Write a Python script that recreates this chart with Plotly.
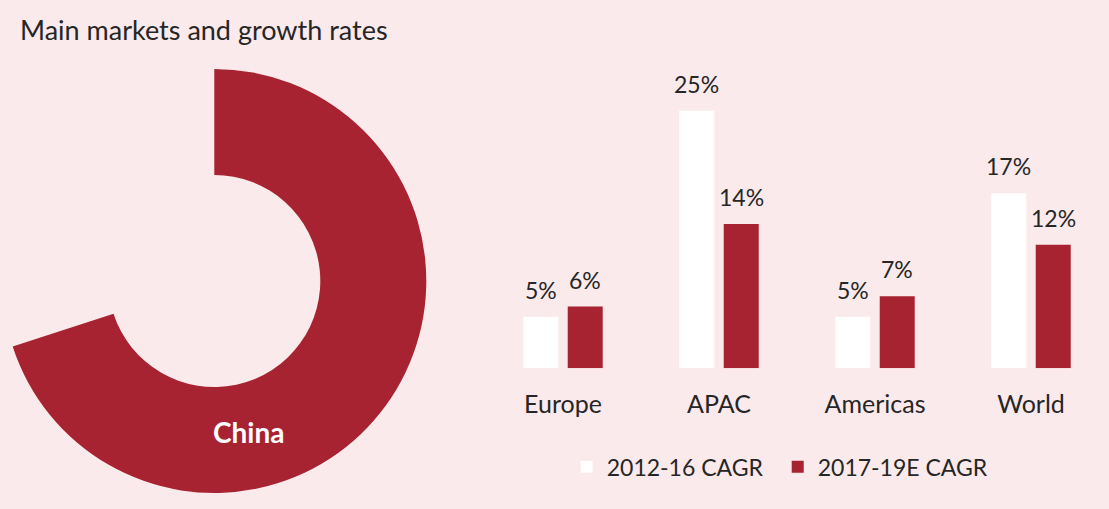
import plotly.graph_objects as go

# Data
regions = ["Europe", "APAC", "Americas", "World"]
cagr_2012_16 = [5, 25, 5, 17]
cagr_2017_19e = [6, 14, 7, 12]
series_names = ["2012-16 CAGR", "2017-19E CAGR"]

donut_labels = ["China", "Other"]
donut_share = [70, 30]

title_text = "Main markets and growth rates"

# Styling
BG = "#FBEAEB"
RED = "#A82332"
WHITE = "#FFFFFF"
TEXT = "#262626"
FONT = "Lato"

W, H = 1109, 509

fig = go.Figure()

# Donut: only the China slice is drawn, the remainder is left transparent
fig.add_trace(go.Pie(
    labels=donut_labels,
    values=donut_share,
    hole=0.5,
    sort=False,
    direction="clockwise",
    rotation=0,
    marker=dict(colors=[RED, "rgba(0,0,0,0)"], line=dict(width=0)),
    textinfo="none",
    hoverinfo="skip",
    showlegend=False,
    domain=dict(x=[2.3 / W, 426.3 / W], y=[16 / H, 440 / H]),
))

# Grouped bars
for name, vals, color in [(series_names[0], cagr_2012_16, WHITE),
                          (series_names[1], cagr_2017_19e, RED)]:
    fig.add_trace(go.Bar(
        name=name,
        x=regions,
        y=vals,
        marker=dict(color=color, line=dict(width=0)),
        hoverinfo="skip",
    ))

# Value labels above each bar
annotations = []
bar_offset = 22.2  # px from category centre to each bar centre
for vals, off in [(cagr_2012_16, -bar_offset), (cagr_2017_19e, bar_offset)]:
    for r, v in zip(regions, vals):
        annotations.append(dict(
            x=r, y=v, xref="x", yref="y",
            xshift=off, yshift=27,
            text=f"{v}%", showarrow=False,
            xanchor="center", yanchor="middle",
            font=dict(family=FONT, size=23, color=TEXT),
        ))

annotations.append(dict(
    x=18 / W, y=1 - 30 / H, xref="paper", yref="paper",
    text=title_text, showarrow=False, xanchor="left", yanchor="middle",
    font=dict(family=FONT, size=27, color=TEXT),
))
annotations.append(dict(
    x=248 / W, y=1 - 432 / H, xref="paper", yref="paper",
    text="<b>China</b>", showarrow=False, xanchor="center", yanchor="middle",
    font=dict(family=FONT, size=28, color=WHITE),
))

fig.update_layout(
    width=W, height=H,
    margin=dict(l=0, r=0, t=0, b=0),
    paper_bgcolor=BG, plot_bgcolor=BG,
    barmode="group", bargap=0.43, bargroupgap=0.213,
    font=dict(family=FONT, color=TEXT),
    xaxis=dict(
        domain=[485 / W, 1.0], range=[-0.5, 3.5], type="category",
        showgrid=False, zeroline=False, showline=False, ticks="",
        tickfont=dict(family=FONT, size=25, color=TEXT),
        ticklabelstandoff=19, fixedrange=True,
    ),
    yaxis=dict(
        domain=[1 - 368.3 / H, 1 - 79.9 / H], range=[0, 28],
        visible=False, fixedrange=True,
    ),
    legend=dict(
        orientation="h", x=566.7 / W, y=1 - 466.7 / H,
        xanchor="left", yanchor="middle",
        font=dict(family=FONT, size=23, color=TEXT),
        bgcolor="rgba(0,0,0,0)", entrywidth=166, entrywidthmode="pixels",
        traceorder="normal",
    ),
    annotations=annotations,
    showlegend=True,
)

fig.write_html("out.html", config={"displayModeBar": False})
